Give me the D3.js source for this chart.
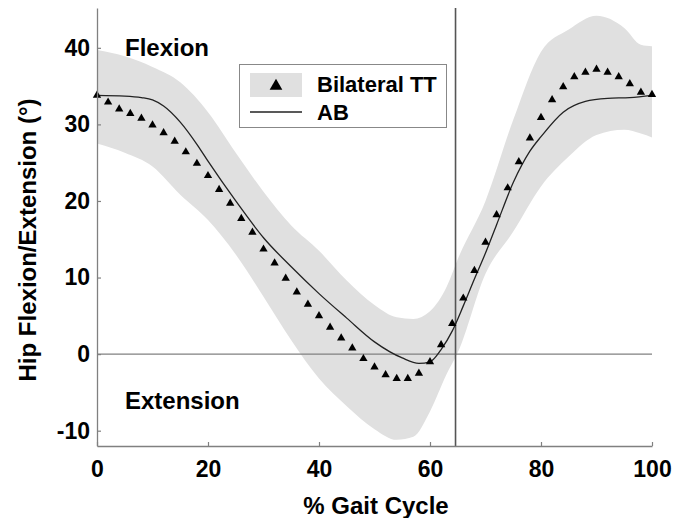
<!DOCTYPE html>
<html>
<head>
<meta charset="utf-8">
<script src="https://cdn.jsdelivr.net/npm/d3@7"></script>
<style>
  body { margin: 0; background: #fff; }
  text { font-family: "Liberation Sans", Arial, sans-serif; font-weight: bold; fill: #000; }
</style>
</head>
<body>
<div id="chart"></div>
<script>
// % gait cycle where the triangles sit (every 2 %)
const ttPct = d3.range(0, 101, 2);
// Bilateral TT mean (triangles)
const ttMean = [33.8, 32.9, 32.0, 31.4, 30.8, 29.9, 28.9, 27.8, 26.4, 24.9,
  23.3, 21.5, 19.7, 17.7, 15.9, 13.7, 11.9, 9.9, 8.1, 6.5,
  5.0, 3.5, 2.1, 0.8, -0.6, -1.7, -2.7, -3.2, -3.2, -2.5,
  -1.0, 1.2, 4.0, 7.3, 10.9, 14.6, 18.2, 21.7, 25.1, 28.2,
  30.9, 33.2, 34.9, 36.2, 36.8, 37.2, 36.8, 36.2, 35.3, 34.2, 33.9];

// Bilateral TT +/- 1 SD band
const bandPct = [0, 5, 10, 15, 20, 25, 30, 35, 40, 45, 50, 54, 57, 60, 63, 65, 70, 75, 80, 85, 90, 95, 98, 100];
const bandUpper = [39.7, 38.9, 37.5, 35.5, 31.6, 26.3, 21.2, 16.8, 13.5, 9.6, 6.4, 4.8, 4.6, 5.6, 8.8, 12.4, 20.0, 30.6, 39.5, 42.4, 44.2, 42.6, 40.4, 40.2];
const bandLower = [27.5, 26.3, 24.5, 20.8, 17.5, 13.0, 7.5, 1.8, -3.2, -6.8, -9.8, -11.2, -10.8, -7.5, -2.6, 0.2, 10.5, 16.0, 21.9, 25.8, 28.6, 29.3, 28.8, 28.3];

// AB mean (solid line)
const abPct = [0, 5, 8, 10, 12, 15, 18, 20, 25, 30, 35, 40, 45, 50, 55, 58, 60, 62, 64, 66, 68, 70, 72, 75, 78, 80, 84, 88, 92, 96, 100];
const abMean = [33.8, 33.7, 33.5, 33.2, 32.4, 30.3, 27.4, 25.2, 20.0, 15.2, 11.4, 7.9, 4.7, 1.6, -0.5, -1.2, -1.0, 0.6, 3.0, 6.3, 9.8, 13.2, 16.9, 22.4, 26.5, 28.4, 31.6, 33.0, 33.4, 33.5, 33.8];

const xTicks = [0, 20, 40, 60, 80, 100];
const yTicks = [-10, 0, 10, 20, 30, 40];
const toeOff = 64.6;

const width = 691, height = 518;
const margin = { top: 8, right: 39, bottom: 72, left: 97 };

const svg = d3.select("#chart").append("svg")
  .attr("width", width)
  .attr("height", height);

const x = d3.scaleLinear().domain([0, 100]).range([margin.left, width - margin.right]);
const y = d3.scaleLinear().domain([-12, 45.2]).range([height - margin.bottom, margin.top]);

const band = bandPct.map((p, i) => ({ p, hi: bandUpper[i], lo: bandLower[i] }));
const ab = abPct.map((p, i) => ({ p, v: abMean[i] }));
const tt = ttPct.map((p, i) => ({ p, v: ttMean[i] }));

// shaded SD band
svg.append("path")
  .datum(band)
  .attr("fill", "#e0e0e0")
  .attr("d", d3.area()
    .x(d => x(d.p))
    .y0(d => y(d.lo))
    .y1(d => y(d.hi))
    .curve(d3.curveMonotoneX));

// zero line
svg.append("line")
  .attr("x1", x(0)).attr("x2", x(100))
  .attr("y1", y(0)).attr("y2", y(0))
  .attr("stroke", "#808080").attr("stroke-width", 1.2);

// toe-off line
svg.append("line")
  .attr("x1", x(toeOff)).attr("x2", x(toeOff))
  .attr("y1", y(45.2)).attr("y2", y(-12))
  .attr("stroke", "#555").attr("stroke-width", 1.6);

// AB line
svg.append("path")
  .datum(ab)
  .attr("fill", "none")
  .attr("stroke", "#222")
  .attr("stroke-width", 1.3)
  .attr("d", d3.line().x(d => x(d.p)).y(d => y(d.v)).curve(d3.curveMonotoneX));

// TT triangles
const tri = d3.symbol().type(d3.symbolTriangle).size(30);
svg.append("g").selectAll("path")
  .data(tt)
  .join("path")
  .attr("transform", d => `translate(${x(d.p)},${y(d.v)})`)
  .attr("d", tri)
  .attr("fill", "#000");

// axes
const xAxis = svg.append("g")
  .attr("transform", `translate(0,${y(-12)})`)
  .call(d3.axisBottom(x).tickValues(xTicks).tickSizeInner(-4).tickSizeOuter(0).tickPadding(10));
const yAxis = svg.append("g")
  .attr("transform", `translate(${x(0)},0)`)
  .call(d3.axisLeft(y).tickValues(yTicks).tickSizeInner(-4).tickSizeOuter(0).tickPadding(7)
    .tickFormat(d => d < 0 ? "-" + Math.abs(d) : d));

[xAxis, yAxis].forEach(a => {
  a.select(".domain").attr("stroke", "#808080").attr("stroke-width", 1.3);
  a.selectAll(".tick line").attr("stroke", "#808080").attr("stroke-width", 1.2);
  a.selectAll(".tick text").style("font-size", "23px").attr("fill", "#000");
});
xAxis.selectAll(".tick text").attr("dy", "0.9em");

// axis titles
svg.append("text")
  .attr("x", 376).attr("y", 514)
  .attr("text-anchor", "middle")
  .style("font-size", "24px")
  .text("% Gait Cycle");

svg.append("text")
  .attr("transform", "translate(36,240) rotate(-90)")
  .attr("text-anchor", "middle")
  .style("font-size", "24px")
  .text("Hip Flexion/Extension (°)");

// region labels
svg.append("text").attr("x", 125).attr("y", 56).style("font-size", "24px").text("Flexion");
svg.append("text").attr("x", 125).attr("y", 409).style("font-size", "24px").text("Extension");

// legend
const lg = svg.append("g");
lg.append("rect")
  .attr("x", 239.5).attr("y", 64.5).attr("width", 207).attr("height", 63)
  .attr("fill", "#fff").attr("stroke", "#888").attr("stroke-width", 1);
lg.append("rect")
  .attr("x", 250).attr("y", 73).attr("width", 52).attr("height", 24)
  .attr("fill", "#e0e0e0");
lg.append("path")
  .attr("transform", "translate(276,86)")
  .attr("d", d3.symbol().type(d3.symbolTriangle).size(70))
  .attr("fill", "#000");
lg.append("line")
  .attr("x1", 250).attr("x2", 302).attr("y1", 112).attr("y2", 112)
  .attr("stroke", "#222").attr("stroke-width", 1.5);
lg.append("text").attr("x", 317).attr("y", 92).style("font-size", "22px").text("Bilateral TT");
lg.append("text").attr("x", 317).attr("y", 120).style("font-size", "22px").text("AB");
</script>
</body>
</html>
